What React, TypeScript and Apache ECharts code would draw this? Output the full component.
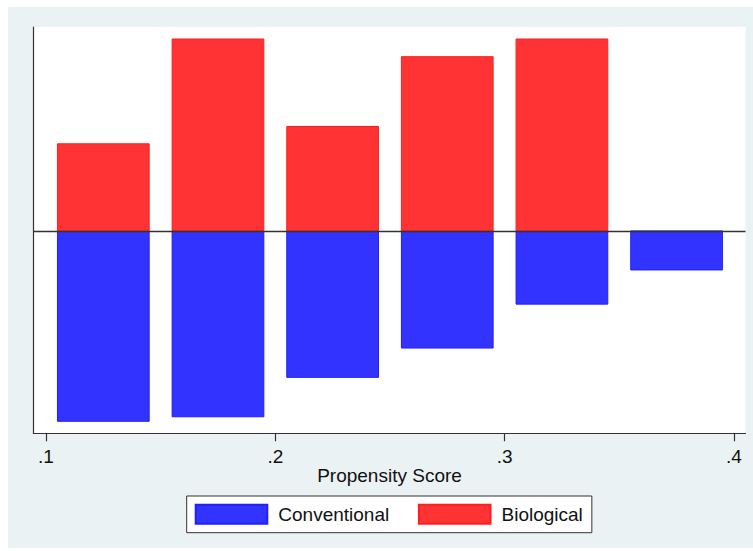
import React, { useEffect, useRef } from "react";
import * as echarts from "echarts";

// Histogram bins (lower edges) on the propensity-score axis
const binStarts = [0.1, 0.15, 0.2, 0.25, 0.3, 0.35];
// Densities (Biological drawn upward, Conventional drawn downward)
const biological = [2.32, 5.11, 2.78, 4.64, 5.11];
const conventional = [-5.07, -4.95, -3.9, -3.12, -1.95, -1.04];
const xTicks = [0.1, 0.2, 0.3, 0.4];
const seriesNames = ["Conventional", "Biological"];

const BIN_W = 0.05;
const INSET = 0.005;
const FONT = '"Liberation Sans", Arial, sans-serif';

export default function App() {
  const ref = useRef<HTMLDivElement>(null);
  useEffect(() => {
    if (!ref.current) return;
    const chart = echarts.init(ref.current, null, { renderer: "svg" });
    const mk = (vals: number[]) => vals.map((v, i) => [binStarts[i], v]);
    const renderItem = (params: any, api: any) => {
      const x0 = api.value(0);
      const v = api.value(1);
      const p1 = api.coord([x0 + INSET, v]);
      const p2 = api.coord([x0 + BIN_W - INSET, 0]);
      const style = api.style();
      return {
        type: "rect",
        shape: {
          x: p1[0],
          y: Math.min(p1[1], p2[1]),
          width: p2[0] - p1[0],
          height: Math.abs(p2[1] - p1[1]),
        },
        style: { ...style },
      };
    };
    chart.setOption({
      animation: false,
      textStyle: { fontFamily: FONT },
      graphic: [
        {
          type: "rect",
          z: -10,
          silent: true,
          shape: { x: 8, y: 7, width: 745, height: 541 },
          style: { fill: "#eaf2f3" },
        },
      ],
      grid: {
        left: 33.5,
        right: 7.5,
        top: 27,
        bottom: 117.7,
        show: true,
        backgroundColor: "#ffffff",
        borderWidth: 0,
      },
      xAxis: {
        type: "value",
        min: 0.09455,
        max: 0.40506,
        name: "Propensity Score",
        nameLocation: "middle",
        nameGap: 33,
        nameMoveOverlap: false,
        nameTextStyle: { fontSize: 19, color: "#111", fontFamily: FONT },
        axisLine: { show: true, onZero: false, lineStyle: { color: "#333", width: 1.2 } },
        axisTick: { show: true, length: 8, customValues: xTicks, lineStyle: { color: "#333", width: 1.2 } },
        axisLabel: {
          customValues: xTicks,
          margin: 14,
          fontSize: 19,
          color: "#111",
          fontFamily: FONT,
          formatter: (v: number) => v.toFixed(1).replace(/^0/, ""),
        },
        splitLine: { show: false },
      },
      yAxis: {
        type: "value",
        min: -5.39,
        max: 5.43,
        axisLine: { show: true, onZero: false, lineStyle: { color: "#333", width: 1.2 } },
        axisTick: { show: false },
        axisLabel: { show: false },
        splitLine: { show: false },
      },
      legend: {
        data: seriesNames,
        left: 186.7,
        top: 496,
        orient: "horizontal",
        icon: "rect",
        itemWidth: 71.6,
        itemHeight: 19,
        itemGap: 28.7,
        padding: [7.7, 9, 8, 8],
        backgroundColor: "#ffffff",
        borderColor: "#333",
        borderWidth: 1,
        borderRadius: 0,
        textStyle: { fontSize: 19, color: "#111", fontFamily: FONT, lineHeight: 19, padding: [0, 0, 0, 6] },
      },
      series: [
        {
          name: seriesNames[0],
          type: "custom",
          renderItem,
          data: mk(conventional),
          itemStyle: { color: "#3333ff", borderColor: "#1f1fff", borderWidth: 1 },
          encode: { x: 0, y: 1 },
          markLine: {
            silent: true,
            symbol: "none",
            label: { show: false },
            lineStyle: { color: "#333", width: 1.3, type: "solid" },
            data: [{ yAxis: 0 }],
          },
        },
        {
          name: seriesNames[1],
          type: "custom",
          renderItem,
          data: mk(biological),
          itemStyle: { color: "#ff3333", borderColor: "#ff1f1f", borderWidth: 1 },
          encode: { x: 0, y: 1 },
        },
      ],
    });
    return () => chart.dispose();
  }, []);
  return (
    <div
      ref={ref}
      style={{ position: "absolute", left: 0, top: 0, width: 753, height: 551, background: "#ffffff" }}
    />
  );
}
